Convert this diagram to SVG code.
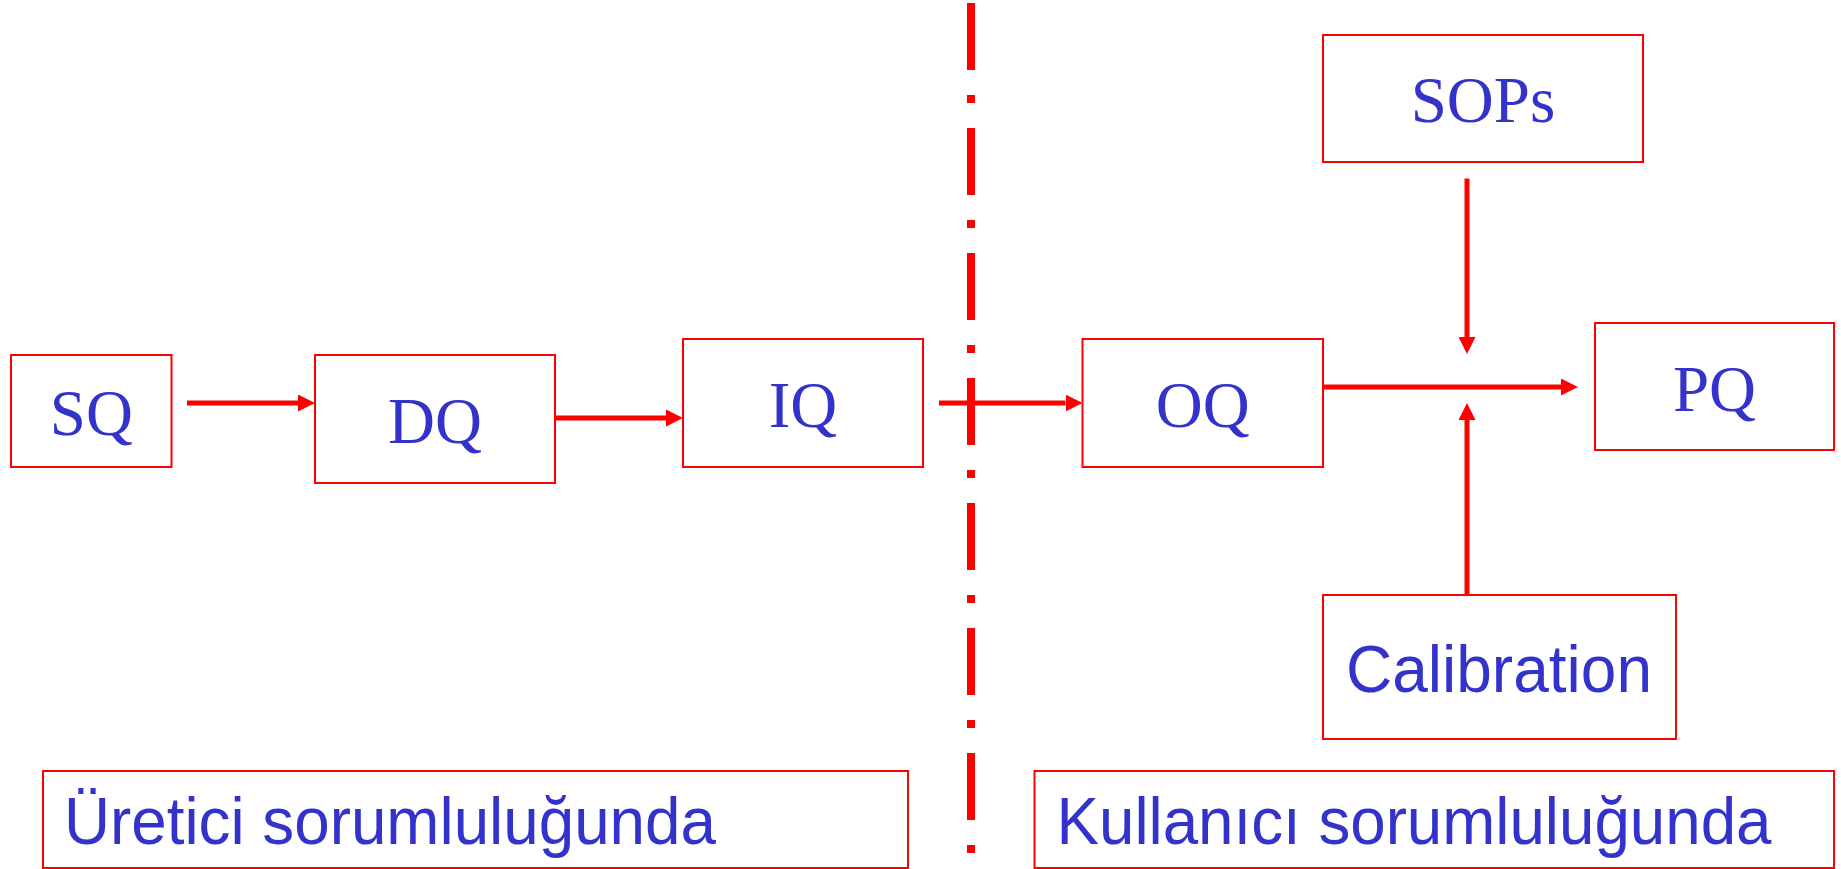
<svg xmlns="http://www.w3.org/2000/svg" width="1841" height="869" viewBox="0 0 1841 869">
<style>
.box{fill:#fff;stroke:#ff0000;stroke-width:2}
.tm{font-family:"Liberation Serif","Times New Roman",serif;font-size:65px;fill:#3333cc;text-anchor:middle}
.ar{font-family:"Liberation Sans",Arial,sans-serif;font-size:66px;fill:#3333cc}
.arc{text-anchor:middle}
.conn{stroke:#ff0000;stroke-width:5;fill:none}
</style>
<defs>
<marker id="ah" markerUnits="userSpaceOnUse" markerWidth="17" markerHeight="17" refX="0" refY="8.5" orient="auto" viewBox="0 0 17 17">
<path d="M0,0 L17,8.5 L0,17 Z" fill="#ff0000"/>
</marker>
</defs>
<rect width="1841" height="869" fill="#fff"/>
<g id="divider">
<line x1="971" y1="3" x2="971" y2="869" stroke="#ff0000" stroke-width="8" stroke-dasharray="67 25 8 25"/>
</g>
<g id="connectors">
<line class="conn" x1="187" y1="403" x2="298" y2="403" marker-end="url(#ah)"/>
<line class="conn" x1="555" y1="418" x2="666" y2="418" marker-end="url(#ah)"/>
<line class="conn" x1="939" y1="403" x2="1065.5" y2="403" marker-end="url(#ah)"/>
<line class="conn" x1="1323" y1="387" x2="1561" y2="387" marker-end="url(#ah)"/>
<line class="conn" x1="1467" y1="178.5" x2="1467" y2="337" marker-end="url(#ah)"/>
<line class="conn" x1="1467" y1="595" x2="1467" y2="420" marker-end="url(#ah)"/>
</g>
<g id="SQ"><rect class="box" x="11" y="355" width="160.5" height="112"/><text class="tm" x="91.3" y="435">SQ</text></g>
<g id="DQ"><rect class="box" x="315" y="355" width="240" height="128"/><text class="tm" x="435" y="443">DQ</text></g>
<g id="IQ"><rect class="box" x="683" y="339" width="240" height="128"/><text class="tm" x="803" y="427">IQ</text></g>
<g id="OQ"><rect class="box" x="1082.5" y="339" width="240.5" height="128"/><text class="tm" x="1202.7" y="427">OQ</text></g>
<g id="SOPs"><rect class="box" x="1323" y="35" width="320" height="127"/><text class="tm" x="1483" y="122">SOPs</text></g>
<g id="PQ"><rect class="box" x="1595" y="323" width="239" height="127"/><text class="tm" x="1714.5" y="410.5">PQ</text></g>
<g id="Calibration"><rect class="box" x="1323" y="595" width="353" height="144"/><text class="ar arc" x="1499" y="691.5" textLength="306" lengthAdjust="spacingAndGlyphs">Calibration</text></g>
<g id="uretici"><rect class="box" x="43" y="771" width="865" height="97"/><text class="ar" x="64" y="844" textLength="652" lengthAdjust="spacingAndGlyphs">Üretici sorumluluğunda</text></g>
<g id="kullanici"><rect class="box" x="1034.5" y="771" width="799.5" height="97"/><text class="ar" x="1056.5" y="844" textLength="715" lengthAdjust="spacingAndGlyphs">Kullanıcı sorumluluğunda</text></g>
</svg>
